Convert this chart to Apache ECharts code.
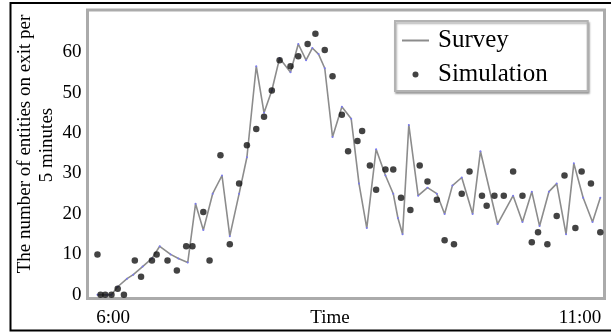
<!DOCTYPE html>
<html>
<head>
<meta charset="utf-8">
<script src="https://cdn.jsdelivr.net/npm/echarts@6/dist/echarts.min.js"></script>
<style>
  html, body { margin: 0; padding: 0; background: #fff; }
  #chart { width: 611px; height: 332px; }
</style>
</head>
<body>
<div id="chart"></div>
<script>
// survey: minutes after 6:00 and entities per 5 min
const surveyTime = [-10, -4, -1, 3, 9, 13, 19, 25, 30, 37, 42, 48, 53, 58, 64, 70, 75, 81, 86, 92,
  97, 102, 107, 114, 119, 124, 128, 132, 136, 141, 147, 153, 158, 163, 169, 175, 180, 183, 186, 190,
  196, 202, 208, 213, 218, 224, 231, 236, 247, 257, 263, 269, 274, 280, 285, 291, 296, 302, 308, 313];
const surveyCount = [0, 0, 0, 2, 4, 5, 7, 9, 12, 10, 9, 8, 22.5, 16, 25, 29.5, 14.5, 25, 34, 56.5,
  45, 50.5, 58.5, 55, 62, 58, 61, 59.5, 56, 39, 46.5, 43.5, 27.5, 16.5, 36, 29.5, 25, 19, 15, 42,
  24.5, 26.5, 25, 20, 27, 29, 20, 35.5, 17.5, 24.5, 18, 25.5, 17, 25.5, 27.5, 15, 32.5, 24, 18, 24];

// simulation
const simTime = [-10, -8, -5, -1, 3, 7, 14, 18, 25, 28, 35, 41, 47, 51, 58, 62, 69, 75, 81, 86,
  92, 97, 102, 107, 114, 119, 125, 130, 136, 141, 147, 151, 157, 160, 165, 169, 175, 180, 185, 191,
  197, 202, 208, 213, 219, 224, 229, 237, 240, 245, 251, 257, 263, 269, 273, 279, 285, 290, 297, 301,
  307, 313];
const simCount = [10, 0, 0, 0, 1.5, 0, 8.5, 4.5, 8.5, 10, 8.5, 6, 12, 12, 20.5, 8.5, 34.5, 12.5, 27.5, 37,
  41, 44, 50.5, 58, 56.5, 59, 62, 64.5, 60.5, 54, 44.5, 35.5, 38, 40.5, 32, 26, 31, 31, 24, 21,
  32, 28, 23.5, 13.5, 12.5, 25, 30.5, 24.5, 22, 24.5, 24.5, 30.5, 24.5, 13, 15.5, 12.5, 19.5, 29.5, 16.5, 30.5,
  27.5, 15.5];

const yTicks = [0, 10, 20, 30, 40, 50, 60];
const xTicks = [0, 300];
const xTickLabels = { 0: "6:00", 300: "11:00" };

const serif = "Liberation Serif";

let chart = echarts.init(document.getElementById("chart"));

const option = {
    animation: false,
    backgroundColor: "#fff",
    grid: {
        left: 87.5, top: 10, right: 6.5, bottom: 33.5,
        outerBoundsMode: "none",
        containLabel: false,
        show: true,
        borderColor: "#ababab",
        borderWidth: 3,
        backgroundColor: "#fff"
    },
    graphic: [
        {   // outer frame
            type: "rect",
            shape: { x: 10.5, y: 3, width: 650, height: 327.5 },
            style: { fill: null, stroke: "#000", lineWidth: 2 },
            silent: true
        },
        {
            type: "text",
            x: 25, y: 144, rotation: Math.PI / 2,
            style: {
                text: "The number of entities on exit per",
                font: "19px " + serif, fill: "#000",
                align: "center", verticalAlign: "middle"
            }
        },
        {
            type: "text",
            x: 47, y: 145, rotation: Math.PI / 2,
            style: {
                text: "5 minutes",
                font: "19px " + serif, fill: "#000",
                align: "center", verticalAlign: "middle"
            }
        }
    ],
    legend: {
        orient: "vertical",
        left: 395, top: 21,
        itemWidth: 27, itemHeight: 6, itemGap: 8,
        padding: [6.5, 40, 3.5, 6],
        backgroundColor: "#fff",
        borderColor: "#b3b3b3",
        borderWidth: 2,
        shadowColor: "rgba(0,0,0,0.3)",
        shadowBlur: 2, shadowOffsetX: 1, shadowOffsetY: 2,
        textStyle: { fontFamily: serif, fontSize: 25, color: "#000", lineHeight: 26, padding: [0, 0, 0, 4] },
        data: [
            { name: "Survey", itemStyle: { opacity: 0 } },
            { name: "Simulation", icon: "circle" }
        ]
    },
    xAxis: {
        type: "value",
        min: -16.4, max: 315.7,
        name: "Time",
        nameLocation: "middle",
        nameGap: 10,
        nameMoveOverlap: false,
        nameTextStyle: { fontFamily: serif, fontSize: 19, color: "#000", verticalAlign: "top", padding: [0, 32, 0, 0] },
        axisLine: { show: false },
        axisTick: { show: false },
        splitLine: { show: false },
        axisLabel: {
            customValues: xTicks,
            formatter: v => xTickLabels[v] || "",
            fontFamily: serif, fontSize: 19, color: "#000", margin: 10
        }
    },
    yAxis: {
        type: "value",
        min: -0.9, max: 70.4,
        axisLine: { show: false },
        axisTick: { show: false },
        splitLine: { show: false },
        axisLabel: {
            customValues: yTicks,
            fontFamily: serif, fontSize: 19, color: "#000", margin: 6
        }
    },
    series: [
        {
            name: "Survey",
            type: "line",
            data: surveyTime.map((t, i) => [t, surveyCount[i]]),
            symbol: "circle",
            symbolSize: 2,
            showSymbol: true,
            itemStyle: { color: "#7a7aee" },
            lineStyle: { color: "#8c8c8c", width: 1.6 },
            z: 2
        },
        {
            name: "Simulation",
            type: "scatter",
            data: simTime.map((t, i) => [t, simCount[i]]),
            symbol: "circle",
            symbolSize: 6.5,
            itemStyle: { color: "#141414" },
            z: 3
        }
    ]
};

chart.setOption(option);
</script>
</body>
</html>
